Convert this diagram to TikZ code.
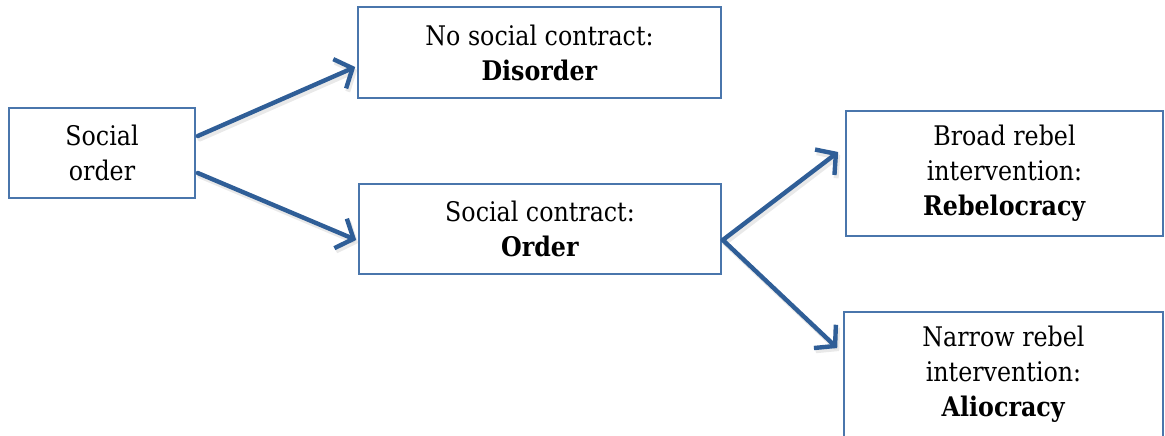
\documentclass[tikz,border=0pt]{standalone}
\usepackage{fontspec}
\setmainfont{DejaVu Serif}[FakeStretch=0.88]
\usetikzlibrary{arrows.meta}
\definecolor{arrowblue}{HTML}{2F5E97}
\definecolor{boxblue}{HTML}{4A76AC}
\tikzset{
  box/.style={draw=boxblue, line width=1.6pt, fill=white, align=center, inner sep=0pt,
    font=\fontsize{27}{35}\selectfont},
  conn/.style={draw=arrowblue, line width=4.4pt, line cap=round,
    -{Straight Barb[length=14pt,width=32pt,line width=4.4pt]}},
  shadowconn/.style={draw=black!25, line width=5pt, line cap=round, opacity=0.35,
    -{Straight Barb[length=14pt,width=32pt,line width=5pt]}}
}
\begin{document}
\begin{tikzpicture}[x=1pt,y=-1pt]
\useasboundingbox (0,0) rectangle (1165,436);
\clip (0,0) rectangle (1165,436);
\node[box, minimum width=186pt, minimum height=90pt] (so) at (102,153) {Social\\order};
\node[box, minimum width=363pt, minimum height=91pt] (dis) at (539.5,52.5) {No social contract:\\\textbf{Disorder}};
\node[box, minimum width=362pt, minimum height=90pt] (ord) at (540,229) {Social contract:\\\textbf{Order}};
\node[box, minimum width=317pt, minimum height=125pt] (reb) at (1004.5,173.5) {Broad rebel\\intervention:\\\textbf{Rebelocracy}};
\node[box, minimum width=319pt, minimum height=125pt] (ali) at (1003.5,374.5) {Narrow rebel\\intervention:\\\textbf{Aliocracy}};
\coordinate (a1s) at ([yshift=17pt,xshift=2pt]so.east);
\coordinate (a1e) at ([yshift=-14.5pt,xshift=-2pt]dis.west);
\coordinate (a2s) at ([yshift=-20pt,xshift=2pt]so.east);
\coordinate (a2e) at ([yshift=-11pt,xshift=-2pt]ord.west);
\coordinate (a3s) at ([yshift=-11pt,xshift=1pt]ord.east);
\coordinate (a3e) at ([yshift=21.5pt,xshift=-7pt]reb.west);
\coordinate (a4e) at ([yshift=26.5pt,xshift=-6pt]ali.west);
\begin{scope}[transform canvas={xshift=2pt,yshift=-3pt}]
\draw[shadowconn] (a1s) -- (a1e);
\draw[shadowconn] (a2s) -- (a2e);
\draw[shadowconn] (a3s) -- (a3e);
\draw[shadowconn] (a3s) -- (a4e);
\end{scope}
\draw[conn] (a1s) -- (a1e);
\draw[conn] (a2s) -- (a2e);
\draw[conn] (a3s) -- (a3e);
\draw[conn] (a3s) -- (a4e);
\end{tikzpicture}
\end{document}
